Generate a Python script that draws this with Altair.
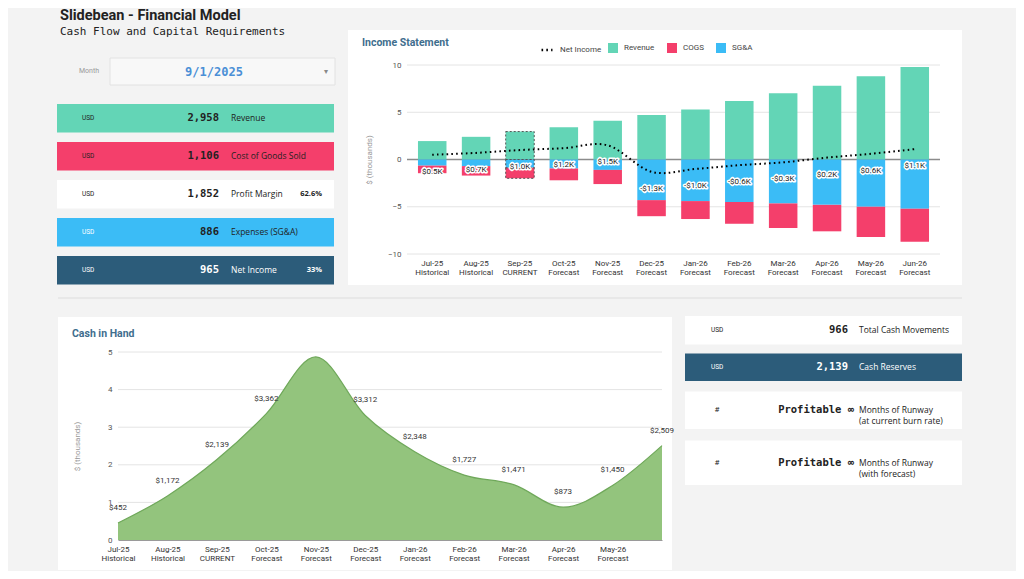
import altair as alt
import pandas as pd

# ---------------- data ----------------
months = ["Jul-25", "Aug-25", "Sep-25", "Oct-25", "Nov-25", "Dec-25",
          "Jan-26", "Feb-26", "Mar-26", "Apr-26", "May-26", "Jun-26"]
phases = ["Historical", "Historical", "CURRENT", "Forecast", "Forecast", "Forecast",
          "Forecast", "Forecast", "Forecast", "Forecast", "Forecast", "Forecast"]
revenue_k = [1.95, 2.4, 2.958, 3.4, 4.1, 4.7, 5.3, 6.2, 7.0, 7.8, 8.8, 9.8]
sga_k = [0.65, 0.7, 0.886, 0.95, 1.1, 4.3, 4.4, 4.5, 4.65, 4.8, 5.0, 5.2]
cogs_k = [0.8, 1.0, 1.106, 1.25, 1.5, 1.7, 1.9, 2.3, 2.6, 2.8, 3.2, 3.5]
net_income_k = [0.5, 0.7, 1.0, 1.2, 1.5, -1.3, -1.0, -0.6, -0.3, 0.2, 0.6, 1.1]
cash_usd = [452, 1172, 2139, 3362, 4870, 3312, 2348, 1727, 1471, 873, 1450, 2509]
income_ticks = [-10, -5, 0, 5, 10]
cash_ticks = [0, 1, 2, 3, 4, 5]

kpi_names = ["Revenue", "Cost of Goods Sold", "Profit Margin", "Expenses (SG&A)", "Net Income"]
kpi_units = ["USD", "USD", "USD", "USD", "USD"]
kpi_values = ["2,958", "1,106", "1,852", "886", "965"]
kpi_pcts = ["", "", "62.6%", "", "33%"]

right_names = ["Total Cash Movements", "Cash Reserves",
               "Months of Runway|(at current burn rate)", "Months of Runway|(with forecast)"]
right_units = ["USD", "USD", "#", "#"]
right_values = ["966", "2,139", "Profitable \u221e", "Profitable \u221e"]

title_text = "Slidebean - Financial Model"
subtitle_text = "Cash Flow and Capital Requirements"
month_label = "Month"
month_value = "9/1/2025"
income_title = "Income Statement"
cash_title = "Cash in Hand"
y_title = "$ (thousands)"
series_names = ["Revenue", "COGS", "SG&A"]
net_name = "Net Income"

# ---------------- styles ----------------
W, H = 1008, 563
BG = "#f3f3f3"
TEAL, PINK, BLUE, NAVY, GREEN = "#63d5b6", "#f43f6b", "#3bbcf6", "#2c5c7a", "#93c47d"
DARK = "#222222"
TITLE_BLUE = "#3f6e8e"
GRID = "#e4e4e4"
SANS = "Roboto"
MONO = "DejaVu Sans Mono"

dummy = pd.DataFrame({"k": [0]})


def txt(text, x, y, **kw):
    return alt.Chart(dummy).mark_text(**kw).encode(
        x=alt.value(x), y=alt.value(y), text=alt.value(text))


def box(x, y, x2, y2, **kw):
    return alt.Chart(dummy).mark_rect(**kw).encode(
        x=alt.value(x), y=alt.value(y), x2=alt.value(x2), y2=alt.value(y2))


# ---------------- decorations ----------------
deco = [
    box(340, 22, 954, 277, fill="white"),
    box(50, 309, 664, 562, fill="white"),
    box(50, 289.5, 954, 290.5, fill="#dddddd"),
    txt(title_text, 52, 8, align="left", baseline="middle", font=SANS, fontSize=14.5,
        fontWeight="bold", color=DARK),
    txt(subtitle_text, 52, 24, align="left", baseline="middle", font=MONO, fontSize=11,
        color=DARK),
    txt(month_label, 81, 63, align="center", baseline="middle", font=SANS, fontSize=7,
        color="#9a9a9a"),
    box(102, 50, 327, 77, fill="#f8f8f8", stroke="#e2e2e2", strokeWidth=1),
    txt(month_value, 206, 64, align="center", baseline="middle", font=MONO, fontSize=12,
        fontWeight="bold", color="#4a8fd6"),
    txt("\u25be", 318, 64, align="center", baseline="middle", font=SANS, fontSize=8,
        color="#888888"),
    txt(income_title, 354, 35, align="left", baseline="middle", font=SANS, fontSize=10.5,
        fontWeight="bold", color=TITLE_BLUE),
    txt(cash_title, 64, 326, align="left", baseline="middle", font=SANS, fontSize=10.5,
        fontWeight="bold", color=TITLE_BLUE),
]

# ---------------- left KPI cards ----------------
cards_df = pd.DataFrame({"card": kpi_names, "unit": kpi_units, "value": kpi_values,
                         "pct": kpi_pcts})
yc = alt.Y("card:N", sort=kpi_names,
           scale=alt.Scale(domain=kpi_names, range=[96, 276.5], paddingInner=0.25,
                           paddingOuter=0), axis=None)
card_fill = [TEAL, PINK, "white", BLUE, NAVY]
unit_col = [DARK, DARK, DARK, "white", "white"]
text_col = [DARK, DARK, DARK, DARK, "white"]
cb = alt.Chart(cards_df)
cards = alt.layer(
    cb.mark_rect().encode(
        y=yc, x=alt.value(49), x2=alt.value(326),
        fill=alt.Fill("card:N", scale=alt.Scale(domain=kpi_names, range=card_fill),
                      legend=None)),
    cb.mark_text(align="left", baseline="middle", font=SANS, fontSize=6.5).encode(
        y=yc, x=alt.value(74), text="unit:N",
        color=alt.Color("card:N", scale=alt.Scale(domain=kpi_names, range=unit_col),
                        legend=None)),
    cb.mark_text(align="right", baseline="middle", font=MONO, fontSize=10.5,
                 fontWeight="bold").encode(
        y=yc, x=alt.value(211), text="value:N",
        color=alt.Color("card:N", scale=alt.Scale(domain=kpi_names, range=text_col),
                        legend=None)),
    cb.mark_text(align="left", baseline="middle", font="Open Sans", fontSize=8.5).encode(
        y=yc, x=alt.value(223), text="card:N",
        color=alt.Color("card:N", scale=alt.Scale(domain=kpi_names, range=text_col),
                        legend=None)),
    cb.mark_text(align="right", baseline="middle", font="Open Sans", fontSize=7.5,
                 fontWeight="bold").encode(
        y=yc, x=alt.value(314), text="pct:N",
        color=alt.Color("card:N", scale=alt.Scale(domain=kpi_names, range=text_col),
                        legend=None)),
).resolve_scale(color="independent", fill="independent")

# ---------------- income statement ----------------
xlabels = [f"{m}|{p}" for m, p in zip(months, phases)]
rows = []
for lab, m, r, s, c in zip(xlabels, months, revenue_k, sga_k, cogs_k):
    rows.append({"mlabel": lab, "month": m, "series": "Revenue", "y0": 0.0, "y1": r})
    rows.append({"mlabel": lab, "month": m, "series": "SG&A", "y0": 0.0, "y1": -s})
    rows.append({"mlabel": lab, "month": m, "series": "COGS", "y0": -s, "y1": -(s + c)})
bars_df = pd.DataFrame(rows)
net_df = pd.DataFrame({
    "mlabel": xlabels, "net": net_income_k, "nl": net_name,
    "lbl": [("-" if v < 0 else "") + f"${abs(v):.1f}K" for v in net_income_k]})

xi_scale = alt.Scale(domain=xlabels, range=[399, 932], paddingInner=0.35, paddingOuter=0.25)
xi_axis = alt.Axis(orient="bottom", offset=-(H - 246), labelExpr="split(datum.label, '|')",
                   labelFontSize=8, labelColor="#333333", labelFont=SANS, labelPadding=5,
                   ticks=False, domain=False, title=None, labelOverlap=False, labelAngle=0,
                   labelLineHeight=9, grid=False, zindex=1)
yi_scale = alt.Scale(domain=[-10, 10], range=[246, 57], nice=False, zero=False)
yi_axis = alt.Axis(orient="left", offset=-399, values=income_ticks, grid=False,
                   domain=False, ticks=False, labelPadding=6,
                   labelFontSize=8, labelColor="#555555", labelFont=SANS, title=y_title,
                   titleFontSize=8, titleColor="#9a9a9a", titleFontWeight="normal",
                   titleFont=SANS, titlePadding=14, zindex=1)
xi = alt.X("mlabel:N", sort=xlabels, scale=xi_scale, axis=xi_axis)

grid_i = alt.Chart(pd.DataFrame({"v": income_ticks})).mark_rule(
    strokeWidth=1).encode(
    y=alt.Y("v:Q", scale=yi_scale, axis=yi_axis), x=alt.value(399), x2=alt.value(932),
    color=alt.condition("datum.v == 0", alt.value("#8c8c8c"), alt.value(GRID)),
    size=alt.condition("datum.v == 0", alt.value(1.4), alt.value(1)))
bars = alt.Chart(bars_df).mark_bar(stroke="#555555", strokeDash=[2, 2],
                                   strokeWidth=1).encode(
    x=xi,
    y=alt.Y("y0:Q", scale=yi_scale, axis=yi_axis),
    y2="y1:Q",
    color=alt.Color("series:N", scale=alt.Scale(domain=series_names,
                                                range=[TEAL, PINK, BLUE]),
                    legend=alt.Legend(orient="none", legendX=600, legendY=35,
                                      direction="horizontal", title=None,
                                      symbolType="square", symbolSize=100,
                                      labelFontSize=8, labelFont=SANS,
                                      labelColor="#444444", columnPadding=12,
                                      padding=0, labelOffset=6, symbolStrokeWidth=0)),
    strokeOpacity=alt.condition(alt.datum.month == "Sep-25", alt.value(1), alt.value(0)),
)
net_line = alt.Chart(net_df).mark_line(color="black", strokeWidth=2,
                                       interpolate="cardinal").encode(
    x=xi,
    y=alt.Y("net:Q", scale=yi_scale, axis=yi_axis),
    strokeDash=alt.StrokeDash("nl:N", scale=alt.Scale(domain=[net_name],
                                                      range=[[1.6, 3.2]]),
                              legend=alt.Legend(orient="none", legendX=532, legendY=35,
                                                title=None, symbolType="stroke",
                                                symbolStrokeWidth=2.5, symbolSize=120,
                                                symbolStrokeColor="black",
                                                labelFontSize=8, labelFont=SANS,
                                                labelColor="#444444", padding=0,
                                                labelOffset=6)),
)
net_halo = alt.Chart(net_df).mark_text(dy=17, fontSize=8, font=SANS, stroke="white",
                                       strokeWidth=3, strokeJoin="round",
                                       color="white").encode(
    x=xi, y=alt.Y("net:Q", scale=yi_scale, axis=yi_axis), text="lbl:N")
net_text = alt.Chart(net_df).mark_text(dy=17, fontSize=8, font=SANS,
                                       color="#222222").encode(
    x=xi, y=alt.Y("net:Q", scale=yi_scale, axis=yi_axis), text="lbl:N")
income = alt.layer(grid_i, bars, net_line, net_halo, net_text).resolve_scale(
    color="independent", size="independent")

# ---------------- cash in hand ----------------
cash_df = pd.DataFrame({"mlabel": xlabels, "cash": cash_usd,
                        "ck": [c / 1000 for c in cash_usd]})
xc = alt.X("mlabel:N", sort=xlabels,
           scale=alt.Scale(type="point", domain=xlabels, range=[110, 654], padding=0),
           axis=alt.Axis(orient="bottom", offset=-(H - 532),
                         labelExpr="indexof(datum.label, 'Jun-26') >= 0 ? '' : split(datum.label, '|')",
                         labelFontSize=8, labelColor="#333333", labelFont=SANS,
                         labelPadding=5, ticks=False, domain=True, domainColor="#9a9a9a",
                         title=None, labelOverlap=False, labelAngle=0, labelLineHeight=9,
                         grid=False, zindex=1))
yc_scale = alt.Scale(domain=[0, 5], range=[532, 344], nice=False)
yc_axis = alt.Axis(orient="left", offset=-110, values=cash_ticks, grid=False,
                   domain=False, ticks=False, labelPadding=6,
                   labelFontSize=8, labelColor="#555555", labelFont=SANS, title=y_title,
                   titleFontSize=8, titleColor="#9a9a9a", titleFontWeight="normal",
                   titleFont=SANS, titlePadding=26, zindex=1)
grid_c = alt.Chart(pd.DataFrame({"v": cash_ticks[1:]})).mark_rule(
    color=GRID, strokeWidth=1).encode(
    y=alt.Y("v:Q", scale=yc_scale, axis=yc_axis), x=alt.value(110), x2=alt.value(654))
area = alt.Chart(cash_df).mark_area(interpolate="cardinal", color=GREEN, opacity=1,
                                    line={"color": "#6fa85a", "strokeWidth": 1.2}).encode(
    x=xc, y=alt.Y("ck:Q", scale=yc_scale, axis=yc_axis))
cash_lbl = alt.Chart(cash_df).mark_text(dy=-15, fontSize=8, font=SANS,
                                        color="#333333").encode(
    x=xc, y=alt.Y("ck:Q", scale=yc_scale, axis=yc_axis),
    text=alt.Text("cash:Q", format="$,.0f")).transform_filter(
    "indexof(datum.mlabel, 'Nov-25') < 0")
cash = alt.layer(grid_c, area, cash_lbl)

# ---------------- right cards ----------------
rc_y = [(308, 336.5), (345.5, 373), (383.5, 421), (432.5, 477)]
rc_fill = ["white", NAVY, "white", "white"]
rc_text = [DARK, "white", DARK, DARK]
right_cards = []
for i in range(len(right_names)):
    d = pd.DataFrame({"unit": [right_units[i]], "value": [right_values[i]],
                      "name": [right_names[i]]})
    y0, y1 = rc_y[i]
    ym = (y0 + y1) / 2
    base = alt.Chart(d)
    right_cards.append(base.mark_rect(fill=rc_fill[i]).encode(
        x=alt.value(677), x2=alt.value(954), y=alt.value(y0), y2=alt.value(y1)))
    is_num = right_units[i] == "USD"
    right_cards.append(base.mark_text(
        align="left" if is_num else "center", baseline="middle", font=SANS,
        fontSize=6.5 if is_num else 8, color=rc_text[i]).encode(
        x=alt.value(703 if is_num else 709), y=alt.value(ym), text="unit:N"))
    right_cards.append(base.mark_text(
        align="right", baseline="middle", font=MONO, fontSize=10.5, fontWeight="bold",
        color=rc_text[i]).encode(
        x=alt.value(840 if is_num else 846), y=alt.value(ym), text="value:N"))
    right_cards.append(base.mark_text(
        align="left", baseline="middle", font="Open Sans", fontSize=8.5, lineBreak="|",
        lineHeight=11, color=rc_text[i]).encode(
        x=alt.value(851), y=alt.value(ym), text="name:N"))

# ---------------- compose ----------------
chart = alt.layer(*deco, cards, income, cash, *right_cards).resolve_scale(
    x="independent", y="independent", color="independent", fill="independent",
    strokeDash="independent", strokeOpacity="independent", size="independent"
).properties(
    width=W, height=H, padding=0, autosize=alt.AutoSizeParams(type="none"),
    background=BG
).configure_view(stroke=None)

chart.save("out.html", embed_options={"renderer": "svg", "actions": False})
